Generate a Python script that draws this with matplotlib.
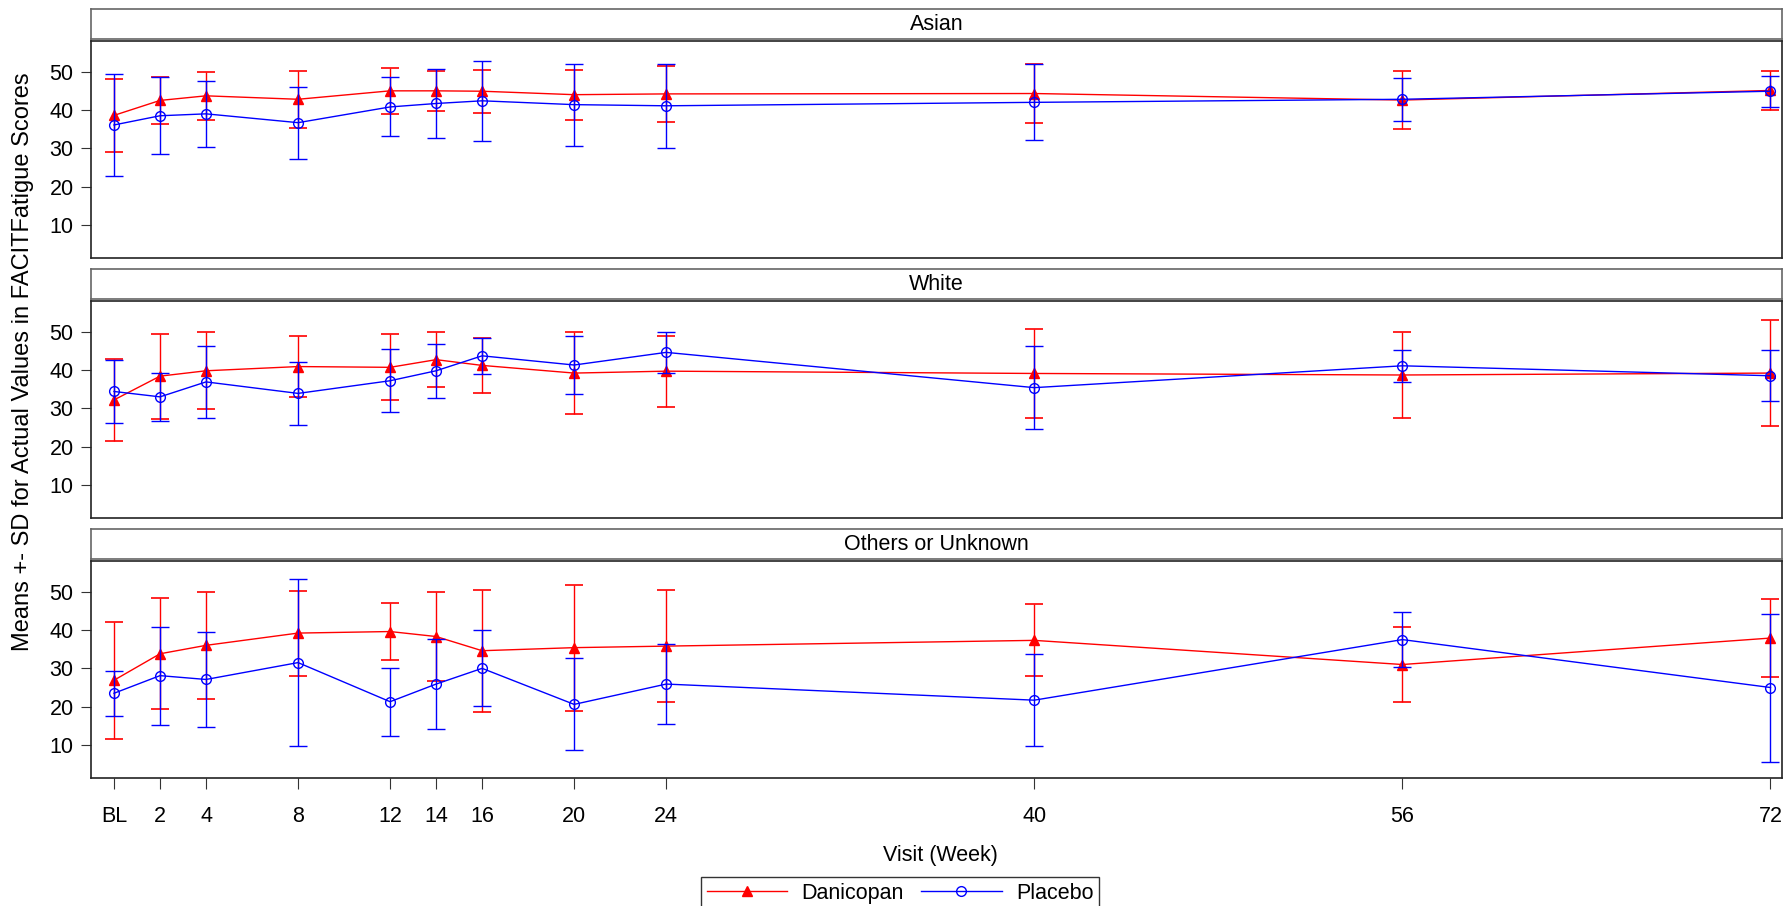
import matplotlib
matplotlib.use("Agg")
import matplotlib.pyplot as plt
from matplotlib.lines import Line2D

plt.rcParams['font.family'] = ['Liberation Sans', 'DejaVu Sans']

# visit weeks and tick labels
weeks = [0, 2, 4, 8, 12, 14, 16, 20, 24, 40, 56, 72]
week_labels = ['BL', '2', '4', '8', '12', '14', '16', '20', '24', '40', '56', '72']

panels = ['Asian', 'White', 'Others or Unknown']

# Asian
asian_dan_mean = [38.6, 42.5, 43.7, 42.8, 45.0, 45.0, 44.9, 44.0, 44.2, 44.3, 42.6, 45.1]
asian_dan_sd = [9.6, 6.2, 6.2, 7.5, 6.0, 5.3, 5.6, 6.5, 7.3, 7.6, 7.5, 5.1]
asian_pla_mean = [36.1, 38.5, 39.0, 36.7, 40.8, 41.7, 42.4, 41.4, 41.1, 42.0, 42.8, 44.9]
asian_pla_sd = [13.3, 10.0, 8.6, 9.4, 7.7, 9.1, 10.4, 10.7, 11.0, 9.9, 5.6, 4.1]

# White
white_dan_mean = [32.2, 38.4, 39.8, 40.9, 40.7, 42.7, 41.2, 39.2, 39.7, 39.1, 38.7, 39.2]
white_dan_sd = [10.6, 11.1, 10.0, 7.9, 8.6, 7.1, 7.1, 10.6, 9.3, 11.7, 11.3, 13.8]
white_pla_mean = [34.4, 33.0, 36.9, 33.9, 37.2, 39.8, 43.7, 41.3, 44.6, 35.4, 41.1, 38.5]
white_pla_sd = [8.2, 6.2, 9.3, 8.3, 8.2, 7.0, 4.7, 7.5, 5.3, 10.8, 4.2, 6.6]

# Others or Unknown
other_dan_mean = [26.9, 33.8, 36.0, 39.2, 39.6, 38.3, 34.6, 35.4, 35.8, 37.3, 31.0, 37.9]
other_dan_sd = [15.2, 14.5, 14.0, 11.1, 7.4, 11.7, 15.9, 16.4, 14.7, 9.4, 9.8, 10.2]
other_pla_mean = [23.5, 28.1, 27.1, 31.5, 21.3, 25.9, 30.0, 20.6, 25.9, 21.7, 37.5, 25.0]
other_pla_sd = [5.9, 12.8, 12.5, 21.8, 8.9, 11.7, 9.9, 12.0, 10.5, 12.0, 7.1, 19.3]

dan_means = [asian_dan_mean, white_dan_mean, other_dan_mean]
dan_sds = [asian_dan_sd, white_dan_sd, other_dan_sd]
pla_means = [asian_pla_mean, white_pla_mean, other_pla_mean]
pla_sds = [asian_pla_sd, white_pla_sd, other_pla_sd]

RED = '#FF0000'
BLUE = '#0000FF'
FS = 15.5

W, H = 1785, 906
fig = plt.figure(figsize=(W / 100, H / 100), dpi=100)

left = 91 / W
width = (1782 - 91) / W
axes_tops = [41, 301, 561]
axes_h = 217
head_h = 30

for i, name in enumerate(panels):
    top = axes_tops[i]
    # strip header above each panel
    hax = fig.add_axes([left, 1 - (top - 2) / H, width, head_h / H])
    hax.set_xticks([])
    hax.set_yticks([])
    for s in hax.spines.values():
        s.set_color('#666666')
        s.set_linewidth(1.2)
    hax.text(0.5, 0.5, name, ha='center', va='center', fontsize=FS, transform=hax.transAxes)

    ax = fig.add_axes([left, 1 - (top + axes_h) / H, width, axes_h / H])
    ax.errorbar(weeks, dan_means[i], yerr=dan_sds[i], color=RED, ecolor=RED, lw=1,
                elinewidth=1, capsize=6.5, capthick=1.2, marker='^', ms=6.5,
                mfc=RED, mec=RED, zorder=3)
    ax.errorbar(weeks, pla_means[i], yerr=pla_sds[i], color=BLUE, ecolor=BLUE, lw=1,
                elinewidth=1, capsize=6.5, capthick=1.2, marker='o', ms=7,
                mfc='none', mec=BLUE, mew=1, zorder=4)
    ax.set_xlim(-1.0, 72.5)
    ax.set_ylim(1.4, 58)
    ax.set_yticks([10, 20, 30, 40, 50])
    ax.tick_params(axis='y', direction='out', length=7.5, width=0.8, pad=5,
                   labelsize=FS, color='#333333')
    for s in ax.spines.values():
        s.set_color('#222222')
        s.set_linewidth(1.2)
    if i == 2:
        ax.set_xticks(weeks)
        ax.set_xticklabels(week_labels)
        ax.tick_params(axis='x', direction='out', length=8, width=0.8, pad=12.5,
                       labelsize=FS, color='#333333')
    else:
        ax.set_xticks([])

fig.text(940 / W, 1 - 856 / H, 'Visit (Week)', ha='center', va='center', fontsize=FS)
fig.text(23 / W, 1 - 362 / H, 'Means +- SD for Actual Values in FACITFatigue Scores',
         ha='center', va='center', rotation=90, fontsize=17)

handles = [
    Line2D([], [], color=RED, lw=1, marker='^', ms=6.5, mfc=RED, mec=RED),
    Line2D([], [], color=BLUE, lw=1, marker='o', ms=7, mfc='none', mec=BLUE),
]
leg = fig.legend(handles, ['Danicopan', 'Placebo'], loc='upper center',
                 bbox_to_anchor=(900 / W, 1 - 877 / H), ncol=2, fontsize=FS,
                 frameon=True, fancybox=False, handlelength=3.75, handletextpad=0.65,
                 columnspacing=0.8, borderpad=0.28, borderaxespad=0)
leg.get_frame().set_edgecolor('black')
leg.get_frame().set_linewidth(1)

fig.savefig('out.png', dpi=100)
